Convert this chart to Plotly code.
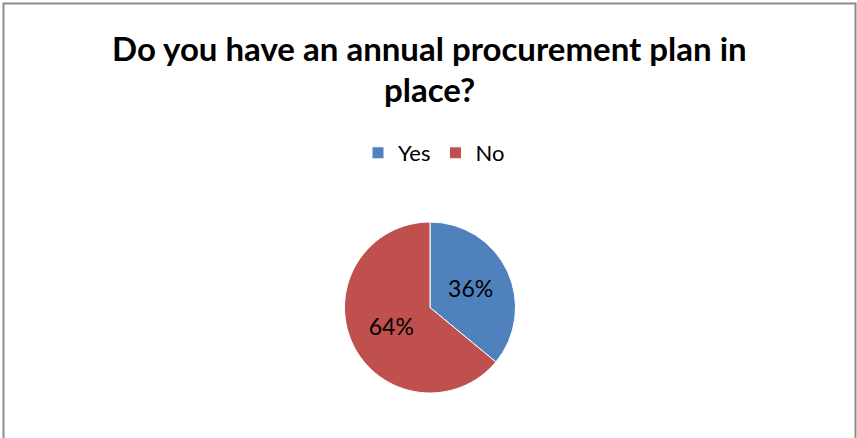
import plotly.graph_objects as go

# Survey responses
labels = ["Yes", "No"]
shares = [36, 64]
colors = ["#4F81BD", "#C0504D"]

title_lines = ["Do you have an annual procurement plan in", "place?"]

W, H = 857, 438
FONT = "Lato, Carlito, sans-serif"

fig = go.Figure(
    go.Pie(
        labels=labels,
        values=shares,
        sort=False,
        direction="clockwise",
        rotation=0,
        marker=dict(colors=colors, line=dict(color="white", width=1)),
        textinfo="percent",
        texttemplate="%{percent:.0%}",
        textposition="inside",
        insidetextorientation="horizontal",
        textfont=dict(family=FONT, size=23, color="black"),
        domain=dict(x=[344 / W, 516 / W], y=[1 - 393 / H, 1 - 222 / H]),
        hoverinfo="label+percent",
    )
)

# Two-line bold heading, each line centred over the pie
title_centres = [48, 89]
annotations = [
    dict(
        text=f"<b>{line}</b>",
        x=430 / W,
        y=1 - cy / H,
        xref="paper",
        yref="paper",
        xanchor="center",
        yanchor="middle",
        showarrow=False,
        font=dict(family=FONT, size=33, color="black"),
    )
    for line, cy in zip(title_lines, title_centres)
]

fig.update_layout(
    width=W,
    height=H,
    margin=dict(l=0, r=0, t=0, b=0),
    paper_bgcolor="white",
    plot_bgcolor="white",
    annotations=annotations,
    legend=dict(
        orientation="h",
        x=434 / W,
        xanchor="center",
        y=1 - 153 / H,
        yanchor="middle",
        font=dict(family=FONT, size=22, color="black"),
        itemwidth=30,
    ),
    shapes=[
        dict(
            type="rect",
            xref="paper",
            yref="paper",
            x0=3.5 / W,
            x1=855.5 / W,
            y0=-0.2,
            y1=1 - 3.5 / H,
            line=dict(color="#8C8C8C", width=2),
            fillcolor="rgba(0,0,0,0)",
        )
    ],
)

fig.write_html("out.html")
